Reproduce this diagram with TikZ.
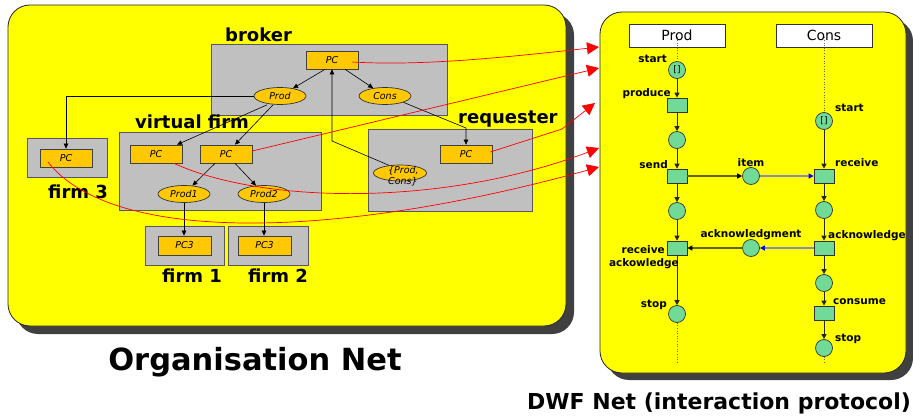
\documentclass[tikz,border=0pt]{standalone}
\usepackage{fontspec}
\setmainfont{DejaVu Sans}[
  BoldFont={DejaVu Sans Bold},
  ItalicFont={DejaVu Sans Oblique},
  BoldItalicFont={DejaVu Sans Bold Oblique}]
\usetikzlibrary{arrows.meta,shapes.geometric}

\definecolor{panelyellow}{RGB}{255,255,0}
\definecolor{panelshadow}{RGB}{64,64,64}
\definecolor{boxgray}{RGB}{192,192,192}
\definecolor{pcorange}{RGB}{255,200,0}
\definecolor{netgreen}{RGB}{112,218,150}
\definecolor{arcolive}{RGB}{100,100,0}
\definecolor{arcblue}{RGB}{140,140,185}
\definecolor{tipblue}{RGB}{0,0,255}

\tikzset{
  panel/.style={fill=panelyellow, draw=black!85, line width=0.8pt, rounded corners=22pt},
  panelshade/.style={fill=panelshadow, rounded corners=22pt},
  company/.style={fill=boxgray, draw=black!65, line width=0.8pt},
  pcbox/.style={rectangle, fill=pcorange, draw=black!75, line width=0.7pt,
    minimum width=52pt, minimum height=18pt, inner sep=0pt,
    font=\fontsize{9.5}{11}\selectfont\itshape},
  roleell/.style={ellipse, fill=pcorange, draw=black!80, line width=0.7pt,
    minimum width=52pt, minimum height=17pt, inner sep=0pt,
    font=\fontsize{9.5}{11}\selectfont\itshape},
  orglabel/.style={anchor=base west, inner sep=0pt, font=\fontsize{18}{20}\selectfont\bfseries},
  orgarc/.style={draw=black, line width=0.6pt, -{Triangle[length=5pt,width=4.5pt]}},
  maparc/.style={draw=red, line width=0.7pt, -{Triangle[length=12pt,width=12pt]}},
  header/.style={rectangle, fill=white, draw=black!80, line width=0.7pt,
    minimum width=96pt, minimum height=23pt, inner sep=0pt,
    font=\fontsize{14}{16}\selectfont},
  place/.style={circle, fill=netgreen, draw=black!80, line width=0.7pt,
    minimum size=17pt, inner sep=0pt, font=\fontsize{9}{9}\selectfont},
  trans/.style={rectangle, fill=netgreen, draw=black!80, line width=0.7pt,
    minimum width=20pt, minimum height=14pt, inner sep=0pt},
  pnlabel/.style={inner sep=0pt, font=\fontsize{10.5}{12}\selectfont\bfseries},
  pnarc/.style={draw=black!85, line width=0.9pt, -{Triangle[length=5pt,width=5pt]}},
  oliveflow/.style={draw=arcolive, line width=1.3pt, -{Triangle[length=5pt,width=5pt,color=black]}},
  blueflow/.style={draw=arcblue, line width=1.3pt, -{Triangle[length=5pt,width=5pt,color=tipblue]}},
  lifeline/.style={draw=black!60, line width=0.6pt, dotted},
}

\begin{document}
\begin{tikzpicture}[x=1pt, y=-1pt]
\useasboundingbox (0,0) rectangle (913,417);

% ---------------- organisation net panel ----------------
\fill[panelshade] (16,13) rectangle (574,334);
\draw[panel] (8,5) rectangle (566,326);

% company boxes
\draw[company] (211,44) rectangle (447,115);
\draw[company] (119,132) rectangle (321,210);
\draw[company] (27,138) rectangle (107,177);
\draw[company] (368,129) rectangle (532,211);
\draw[company] (145,226) rectangle (224,265);
\draw[company] (228,226) rectangle (308,265);

% company names
\node[orglabel] (lbroker) at (225,42) {broker};
\node[orglabel] (lvirtual) at (135,129) {virtual firm};
\node[orglabel] (lfirmthree) at (48,198) {firm 3};
\node[orglabel] (lrequester) at (458,124) {requester};
\node[orglabel] (lfirmone) at (162,282) {firm 1};
\node[orglabel] (lfirmtwo) at (248,282) {firm 2};

% process components and roles
\node[pcbox] (bpc) at (332,60) {PC};
\node[roleell] (prod) at (280,96) {Prod};
\node[roleell] (cons) at (385,96) {Cons};
\node[pcbox] (vpc1) at (156,154) {PC};
\node[pcbox] (vpc2) at (226,154) {PC};
\node[roleell] (prod1) at (184,194) {Prod1};
\node[roleell] (prod2) at (264,194) {Prod2};
\node[pcbox] (f3pc) at (66,158) {PC};
\node[pcbox, minimum width=53pt, minimum height=19pt] (f1pc) at (184.5,245.5) {PC3};
\node[pcbox, minimum width=53pt, minimum height=19pt] (f2pc) at (264.5,245.5) {PC3};
\node[pcbox] (rpc) at (466,154) {PC};
\node[roleell, minimum width=53pt, minimum height=16pt] (pcons) at (400,173) {};
\node[anchor=north west, inner sep=0pt, align=left,
      font=\fontsize{9.5}{11.5}\selectfont\itshape] (pconstext) at (388,166) {\{Prod,\\Cons\}};

% bend points
\coordinate (rbend) at (466,128);
\coordinate (bbend) at (332,141);

% role delegation arcs
\draw[orgarc] ([xshift=-7pt]bpc.south) -- (prod);
\draw[orgarc] ([xshift=13pt]bpc.south) -- (cons);
\draw[orgarc] (prod.west) -| (f3pc.north);
\draw[orgarc] ([xshift=-13pt]prod.south) -- ([xshift=21pt]vpc1.north);
\draw[orgarc] ([xshift=-7pt]prod.south) -- ([xshift=9pt]vpc2.north);
\draw[orgarc] ([xshift=-11pt]vpc2.south) -- (prod1);
\draw[orgarc] ([xshift=9pt]vpc2.south) -- (prod2);
\draw[orgarc] (prod1.south) -- (prod1.south |- f1pc.north);
\draw[orgarc] (prod2.south) -- (prod2.south |- f2pc.north);
\draw[orgarc] (cons.-19) -- (rbend) -- (rpc.north);
\draw[orgarc] (pcons.145) -- (bbend) -- (bpc.south);

\node[anchor=base, inner sep=0pt, font=\fontsize{30.5}{34}\selectfont\bfseries] (orgname) at (255,370) {Organisation Net};

% ---------------- DWF net panel ----------------
\fill[panelshade] (607,19) rectangle (913,380);
\draw[panel] (600,12) rectangle (906,373);

\node[header] (ph) at (677,35.5) {Prod};
\node[header] (ch) at (824,35.5) {Cons};

% producer side
\node[place] (pstart) at (677,70) {[]};
\node[trans] (produce) at (677,105) {};
\node[place] (pp1) at (677,140) {};
\node[trans] (send) at (677,176) {};
\node[place] (pp2) at (677,211) {};
\node[trans] (rack) at (677,248) {};
\node[place] (pstop) at (677,314) {};
\coordinate (pend) at (677,363);

% consumer side
\node[place] (cstart) at (824,121) {[]};
\node[trans] (receive) at (824,176) {};
\node[place] (cp1) at (824,210) {};
\node[trans] (ack) at (824,248) {};
\node[place] (cp2) at (824,283) {};
\node[trans] (consume) at (824,313) {};
\node[place] (cstop) at (824,348) {};
\coordinate (cend) at (824,364);

% message places
\node[place] (item) at (751,176) {};
\node[place] (ackplace) at (751,248) {};

% lifelines, starting inside the role headers
\draw[lifeline] ([yshift=-2pt]ph.center) -- (pstart.north);
\draw[lifeline] (pstop.south) -- (pend);
\draw[lifeline] ([yshift=-2pt]ch.center) -- (cstart.north);
\draw[lifeline] (cstop.south) -- (cend);

% arcs
\draw[pnarc] (pstart) -- (produce);
\draw[pnarc] (produce) -- (pp1);
\draw[pnarc] (pp1) -- (send);
\draw[pnarc] (send) -- (pp2);
\draw[pnarc] (pp2) -- (rack);
\draw[pnarc] (rack) -- (pstop);
\draw[pnarc] (cstart) -- (receive);
\draw[pnarc] (receive) -- (cp1);
\draw[pnarc] (cp1) -- (ack);
\draw[pnarc] (ack) -- (cp2);
\draw[pnarc] (cp2) -- (consume);
\draw[pnarc] (consume) -- (cstop);
\draw[oliveflow] (send) -- (item);
\draw[blueflow] (item) -- (receive);
\draw[blueflow] (ack) -- (ackplace);
\draw[oliveflow] (ackplace) -- (rack);

% labels
\node[pnlabel, anchor=base east] (lpstart) at (667,63) {start};
\node[pnlabel, anchor=base east] (lproduce) at (671,97) {produce};
\node[pnlabel, anchor=base east] (lsend) at (668,168) {send};
\node[pnlabel, anchor=base] (litem) at (751,166) {item};
\node[pnlabel, anchor=base west] (lcstart) at (835,112) {start};
\node[pnlabel, anchor=base west] (lreceive) at (835,167) {receive};
\node[pnlabel, anchor=base] (lackplace) at (751,237) {acknowledgment};
\node[pnlabel, anchor=base west] (lack) at (828,238) {acknowledge};
\node[pnlabel, anchor=base east] (lrack) at (665,253) {receive};
\node[pnlabel, anchor=base east] (lrackb) at (679,266) {ackowledge};
\node[pnlabel, anchor=base east] (lpstop) at (667,307) {stop};
\node[pnlabel, anchor=base west] (lconsume) at (833,304) {consume};
\node[pnlabel, anchor=base west] (lcstop) at (835,341) {stop};

\node[anchor=base, inner sep=0pt, font=\fontsize{22}{26}\selectfont\bfseries] (dwfname) at (719,409) {DWF Net (interaction protocol)};

% ---------------- mapping of components to protocol roles ----------------
\coordinate (t1) at (599,47);
\coordinate (t2) at (599,68);
\coordinate (t3) at (595,103);
\coordinate (t4) at (599,148);
\coordinate (t5) at (599,167);
\coordinate (rk) at (562,129);

\draw[maparc] ([shift={(-6,2)}]bpc.east) .. controls (420,66) and (500,58) .. (t1);
\draw[maparc] ([shift={(0,-3)}]vpc2.east) -- (t2);
\draw[maparc] ([shift={(-2,-2)}]rpc.east) -- (rk) -- (t3);
\draw[maparc] ([shift={(18,0)}]vpc1.south) .. controls (260,203) and (440,208) .. (t4);
\draw[maparc] ([shift={(-18,4)}]f3pc.center) .. controls (112,244) and (335,240) .. (t5);
\end{tikzpicture}
\end{document}
